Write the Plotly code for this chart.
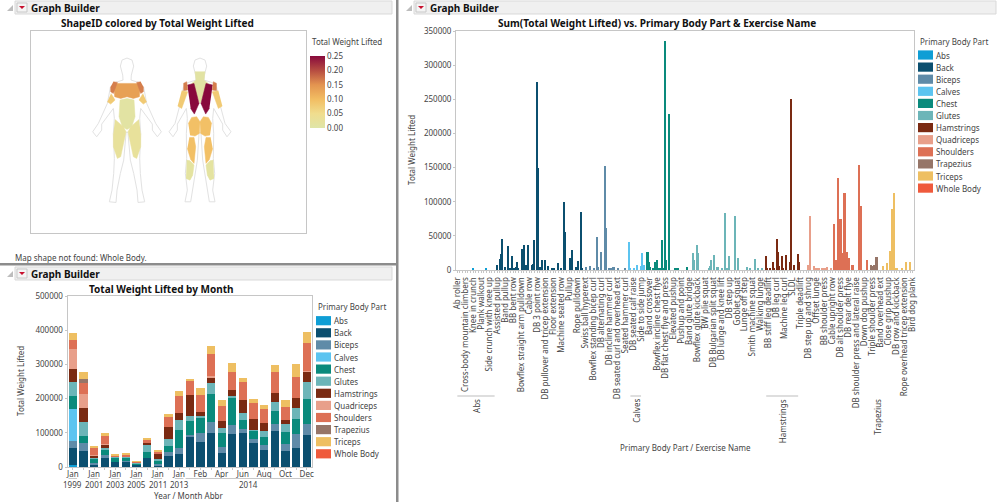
# -*- coding: utf-8 -*-
import plotly.graph_objects as go
from plotly.colors import sample_colorscale

W, H = 999, 502
FONT = 'Noto Sans'
TXT = '#444444'
FRAME = '#c6c6c6'

body_parts = ['Abs', 'Back', 'Biceps', 'Calves', 'Chest', 'Glutes', 'Hamstrings',
              'Quadriceps', 'Shoulders', 'Trapezius', 'Triceps', 'Whole Body']
part_colors = ['#0f9ed5', '#0b4f6f', '#5f8ba8', '#5cc4f0', '#0a8a7c', '#6cb5b8', '#7a2a12',
               '#e89f8a', '#dd7055', '#967568', '#eebf62', '#ef5a3c']

# stacked bars by month, values in thousands
month_keys = ['1999 Jan', '2000 Jan', '2001 Jan', '2002 Jan', '2003 Jan', '2004 Jan', '2005 Jan', '2006 Jan',
              '2011 Jan', '2012 Jan', '2013 Jan', '2014 Jan', '2014 Feb', '2014 Mar', '2014 Apr', '2014 May',
              '2014 Jun', '2014 Jul', '2014 Aug', '2014 Sep', '2014 Oct', '2014 Nov', '2014 Dec']
month_ticks = ['Jan', '', 'Jan', '', 'Jan', '', 'Jan', '', 'Jan', '', 'Jan', '', 'Feb', '', 'Apr', '',
               'Jun', '', 'Aug', '', 'Oct', '', 'Dec']
year_labels = ['1999', '2001', '2003', '2005', '2011', '2013', '2014']
year_first = [0, 2, 4, 6, 8, 10, 11]
year_last = [0, 2, 4, 6, 8, 10, 22]

month_abs = [7, 0, 0, 0, 0, 0, 0, 0, 0, 0, 0, 0, 0, 0, 0, 0, 0, 0, 0, 0, 0, 0, 0]
month_back = [48, 48, 8, 25, 15, 15, 6, 27, 5, 33, 37, 90, 72, 98, 40, 96, 99, 70, 50, 104, 47, 55, 95]
month_biceps = [22, 22, 4, 11, 1, 2, 1, 0, 5, 10, 19, 3, 26, 34, 18, 28, 13, 13, 15, 23, 21, 42, 32]
month_calves = [93, 0, 0, 0, 0, 0, 0, 0, 0, 0, 0, 0, 0, 0, 0, 0, 0, 0, 0, 0, 0, 0, 0]
month_chest = [37, 22, 12, 14, 12, 11, 3, 18, 8, 17, 51, 41, 47, 81, 42, 78, 26, 23, 22, 38, 34, 44, 73]
month_glutes = [43, 40, 5, 7, 4, 4, 2, 18, 6, 22, 31, 16, 3, 32, 13, 5, 20, 2, 19, 26, 24, 32, 50]
month_hams = [37, 40, 4, 9, 0, 0, 0, 7, 13, 36, 19, 60, 12, 18, 22, 18, 38, 33, 24, 25, 12, 29, 29]
month_quads = [58, 42, 2, 2, 0, 0, 0, 0, 0, 0, 0, 0, 0, 3, 0, 0, 0, 0, 0, 0, 0, 0, 3]
month_shoulders = [25, 31, 20, 22, 3, 4, 3, 10, 8, 29, 51, 43, 52, 64, 42, 52, 54, 47, 40, 62, 38, 62, 81]
month_traps = [0, 12, 0, 0, 0, 0, 0, 0, 0, 0, 0, 0, 0, 0, 0, 0, 0, 0, 0, 0, 0, 0, 0]
month_triceps = [22, 21, 7, 10, 3, 6, 2, 2, 2, 8, 14, 2, 20, 23, 20, 26, 10, 10, 10, 21, 21, 36, 32]
month_whole = [0] * 23

# exercise labels, JMP only shows every third one
exercise_labels = ['Ab roller', 'Cross-body mountain climbers', 'Knee in crunch', 'Plank walkout',
                   'Side crunch with knee up', 'Assisted pullup', 'Band pullup', 'BB bent row',
                   'Bowflex straight arm pulldown', 'Cable row', 'DB 3 point row',
                   'DB pullover and tricep extension', 'Floor extension', 'Machine seated row', 'Pullup',
                   'Rope pulldown', 'Swiss ball hyperext', 'Bowflex standing bicep curl', 'DB alternating curl',
                   'DB incline hammer curl', 'DB seated curl and overhead ext', 'Seated hammer curl',
                   'DB seated calf raise', 'Side to side jump', 'Band crossover', 'Bowflex incline chest flye',
                   'DB flat chest flye and press', 'Elevated pushup', 'Pushup and point', 'Band glute bridge',
                   'Bowflex glute kickback', 'BW plie squat', 'DB Bulgarian split squat', 'DB lunge and knee lift',
                   'DB step up', 'Goblet squat', 'Lunge off step', 'Smith machine squat', 'Walking lunge',
                   'BB stiff leg deadlift', 'DB leg curl', 'Machine leg curl', 'SLDL', 'Triple deadlift',
                   'DB step up and shrug', 'Offset lunge', 'BB shoulder press', 'Cable upright row',
                   'DB alt shoulder press', 'DB rear delt flye', 'DB shoulder press and lateral raise',
                   'Down dog pushup', 'Triple shoulder press', 'Band overhead ext', 'Close grip pushup',
                   'DB row and kickback', 'Rope overhead tricep extension', 'Bird dog plank']

# exercise slot and summed weight per body part
abs_slot = [6, 11]
abs_val = [3000, 3000]
back_slot = [15, 16, 16.5, 17, 18, 19, 20, 20.5, 21.5, 22, 22.5, 23, 24.5, 25, 26, 26.5, 28, 28.5, 29, 30, 30.5,
             31, 32, 33, 34, 35.5, 36.5, 38, 39, 40, 40.5, 42.5, 43, 44.5, 45.5, 46.5, 47]
back_val = [7000, 16000, 23000, 46000, 4500, 35000, 2000, 20500, 3000, 5000, 11000, 3000, 31000, 37000, 7000,
            37000, 8000, 9000, 44000, 276000, 150000, 5000, 14000, 14000, 6000, 1500, 1500, 10000, 3000, 99000,
            56000, 18000, 30000, 5000, 13000, 85000, 3000]
biceps_slot = [48.5, 50, 51.5, 52.5, 53, 54, 55.5, 56, 57, 58, 58.5, 59, 60.5, 63]
biceps_val = [5000, 6000, 3000, 48000, 4000, 26000, 153000, 61000, 2000, 3000, 5000, 5000, 2000, 3000]
calves_slot = [64.5, 65, 66.5, 67.5, 69, 69.5, 70]
calves_val = [41000, 3000, 2000, 7000, 6000, 25000, 7000]
chest_slot = [71.5, 72, 72.5, 73.5, 74.5, 75, 76, 77, 77.5, 78, 78.5, 79.5, 82, 83, 86.5]
chest_val = [27000, 11000, 4000, 3000, 12000, 14000, 3000, 44000, 3000, 335000, 15000, 228000, 2000, 2000, 4000]
glutes_slot = [88.5, 89, 90, 90.5, 94.5, 95, 95.5, 96.5, 97.5, 98, 99.5, 100.5, 101.5, 102, 104.5, 105.5,
               109, 110, 112, 113, 114.5]
glutes_val = [25000, 15000, 37000, 25000, 3000, 6000, 14000, 22000, 4000, 4000, 2000, 83000, 3000, 20000, 79500,
              17000, 4000, 3000, 16000, 3000, 3000]
hams_slot = [116, 116.5, 117.5, 118.5, 119, 120, 120.5, 121, 122, 122.5, 123.5, 125, 125.5, 126.5, 128, 128.5]
hams_val = [20000, 2000, 2000, 11000, 2000, 45000, 27000, 6000, 21000, 2000, 22000, 12000, 251000, 7000, 23000, 12000]
quads_slot = [132, 132.5, 134, 135, 136, 137, 138, 139, 140.5]
quads_val = [8000, 79000, 6000, 1500, 1500, 1500, 1500, 4000, 2000]
shoulders_slot = [141.5, 142.5, 143, 143.5, 144, 145, 145.5, 146.5, 147, 148.5, 151, 151.5, 154]
shoulders_val = [67000, 14000, 135000, 14000, 75000, 25000, 113000, 27000, 17000, 8000, 154000, 94000, 14000]
traps_slot = [155.5, 156, 156.5, 157.5]
traps_val = [7000, 6000, 7000, 19000]
triceps_slot = [160, 161.5, 162.5, 163.5, 164, 165, 167, 168.5, 170]
triceps_val = [6000, 10000, 28000, 89000, 113000, 2000, 2000, 12000, 11000]
whole_slot = [171]
whole_val = [0]

group_labels = ['Abs', 'Calves', 'Hamstrings', 'Trapezius']
group_first = [0, 65, 116, None]
group_last = [14, 69, 128, None]
group_center = [7, 67, 122, 157.5]

front_center = 381
back_center = 600
front_outline = [(0, 174), (-15, 180), (-20, 198), (-13, 225), (-12, 240), (-38, 248), (-50, 262), (-59, 310),
                 (-86, 370), (-103, 395), (-91, 410), (-76, 390), (-76, 372), (-41, 325), (-38, 355), (-41, 400),
                 (-38, 475), (-40, 520), (-45, 570), (-53, 605), (-33, 607), (-30, 570), (-20, 520), (-10, 480),
                 (-3, 400), (0, 395)]
back_outline = [(0, 174), (-15, 180), (-20, 198), (-13, 225), (-12, 240), (-38, 248), (-50, 262), (-59, 310),
                (-75, 370), (-93, 395), (-81, 410), (-68, 390), (-68, 372), (-41, 325), (-38, 355), (-41, 400),
                (-40, 475), (-44, 520), (-38, 570), (-45, 605), (-28, 605), (-22, 570), (-15, 520), (-8, 480),
                (-3, 400), (0, 395)]
chest_poly = [(0, 250), (31, 250), (39, 265), (37, 290), (19, 295), (0, 290)]
front_delt_poly = [(-41, 245), (-29, 247), (-41, 280), (-49, 275), (-49, 260)]
front_arm_poly = [(-48, 280), (-36, 300), (-49, 312), (-59, 305)]
abs_poly = [(0, 295), (21, 300), (24, 350), (14, 380), (0, 388)]
quad_poly = [(-36, 358), (-11, 380), (-3, 395), (-19, 470), (-29, 475), (-41, 440), (-41, 400)]
neck_poly = [(0, 215), (15, 215), (12, 240), (25, 250), (12, 285), (0, 310)]
lat_poly = [(-38, 255), (-18, 250), (-3, 310), (-17, 342), (-28, 325)]
back_delt_poly = [(-50, 250), (-40, 245), (-37, 270), (-50, 272)]
back_arm_poly = [(-55, 272), (-37, 275), (-55, 325), (-67, 318)]
glute_poly = [(-35, 370), (-25, 352), (-10, 350), (0, 365), (-2, 400), (-15, 408), (-30, 405)]
ham_poly = [(-32, 412), (-18, 412), (-13, 440), (-18, 490), (-28, 478), (-38, 445)]
calf_poly = [(-40, 480), (-30, 482), (-18, 495), (-22, 525), (-30, 540), (-42, 535)]

map_scale = [[0, '#dfe5a8'], [0.2, '#f0dd8e'], [0.4, '#f2bd62'], [0.6, '#e39450'], [0.8, '#b64c41'], [1, '#880a3c']]
front_polys = [chest_poly, front_delt_poly, front_arm_poly, abs_poly, quad_poly]
front_shares = [0.135, 0.165, 0.08, 0.01, 0.025]
back_polys = [neck_poly, lat_poly, back_delt_poly, back_arm_poly, glute_poly, ham_poly, calf_poly]
back_shares = [0.01, 0.25, 0.165, 0.08, 0.095, 0.095, 0.015]


def fx(x):
    return x / W


def fy(y):
    return 1 - y / H


def label(x, y, text, size=8, color=TXT, bold=False, anchor='left', angle=0, yanchor='middle'):
    return dict(x=fx(x), y=fy(y), xref='paper', yref='paper', text='<b>%s</b>' % text if bold else text,
                showarrow=False, xanchor=anchor, yanchor=yanchor, textangle=angle, align='left',
                font=dict(family=FONT, size=size, color=color))


def px_rect(x0, y0, x1, y1, fill, line=None, width=1):
    return dict(type='rect', xref='paper', yref='paper', x0=fx(x0), x1=fx(x1), y0=fy(y0), y1=fy(y1),
                fillcolor=fill, line=dict(color=line, width=width) if line else dict(width=0))


def px_tri(points, fill):
    path = 'M' + ' L'.join('%.4f,%.4f' % (fx(a), fy(b)) for a, b in points) + ' Z'
    return dict(type='path', xref='paper', yref='paper', path=path, fillcolor=fill, line=dict(width=0))


fig = go.Figure()


# body map
def add_poly(poly, center, color, fill=True, flip=1):
    xs = [center + flip * p[0] for p in poly]
    ys = [p[1] for p in poly]
    fig.add_trace(go.Scatter(x=xs, y=ys, xaxis='x3', yaxis='y3', mode='lines', hoverinfo='skip', showlegend=False,
                             fill='toself' if fill else None, fillcolor=color if fill else None,
                             line=dict(color=color, width=1 if not fill else 0.5)))


for outline, center in [(front_outline, front_center), (back_outline, back_center)]:
    add_poly(outline, center, '#e2e2e2', fill=False)
    add_poly(outline, center, '#e2e2e2', fill=False, flip=-1)
for poly, share in zip(front_polys, front_shares):
    col = sample_colorscale(map_scale, share / 0.25)[0]
    add_poly(poly, front_center, col)
    add_poly(poly, front_center, col, flip=-1)
for poly, share in zip(back_polys, back_shares):
    col = sample_colorscale(map_scale, share / 0.25)[0]
    add_poly(poly, back_center, col)
    add_poly(poly, back_center, col, flip=-1)

# only here for the gradient legend, sits outside the axis range
fig.add_trace(go.Scatter(
    x=[0, 0], y=[0, 0], xaxis='x3', yaxis='y3', mode='markers', hoverinfo='skip', showlegend=False,
    marker=dict(color=[0, 0.25], cmin=0, cmax=0.25, colorscale=map_scale, size=1,
                colorbar=dict(x=fx(310), xanchor='left', y=fy(56), yanchor='top', thickness=15, thicknessmode='pixels',
                              len=72, lenmode='pixels', outlinewidth=0, tickvals=[0, 0.05, 0.1, 0.15, 0.2, 0.25],
                              ticktext=['0.00', '0.05', '0.10', '0.15', '0.20', '0.25'], ticks='',
                              tickfont=dict(family=FONT, size=8, color=TXT), xpad=0, ypad=0))))

# stacked months
month_series = [month_abs, month_back, month_biceps, month_calves, month_chest, month_glutes, month_hams,
                month_quads, month_shoulders, month_traps, month_triceps, month_whole]
for name, color, vals in zip(body_parts, part_colors, month_series):
    fig.add_trace(go.Bar(x=month_keys, y=[v * 1000 for v in vals], name=name, marker_color=color,
                         marker_line_width=0, width=0.78, showlegend=False))

# exercises
slot_series = [(abs_slot, abs_val), (back_slot, back_val), (biceps_slot, biceps_val), (calves_slot, calves_val),
               (chest_slot, chest_val), (glutes_slot, glutes_val), (hams_slot, hams_val), (quads_slot, quads_val),
               (shoulders_slot, shoulders_val), (traps_slot, traps_val), (triceps_slot, triceps_val),
               (whole_slot, whole_val)]
for name, color, (slots, vals) in zip(body_parts, part_colors, slot_series):
    fig.add_trace(go.Bar(x=slots, y=vals, name=name, marker_color=color, marker_line_width=0, width=0.62,
                         xaxis='x2', yaxis='y2', showlegend=False))

shapes = []
notes = []

# window chrome
for x0, x1, y0 in [(2, 392, 1), (2, 392, 267), (401, 996, 1)]:
    shapes.append(px_rect(x0 + 13, y0, x1, y0 + 13, '#f0f0f0', '#d9d9d9'))
    shapes.append(px_tri([(x0 + 5, y0 + 10), (x0 + 11, y0 + 10), (x0 + 11, y0 + 4)], '#bdbdbd'))
    shapes.append(px_rect(x0 + 15, y0 + 2, x0 + 25, y0 + 11, '#f4f4f4', '#c8c8c8'))
    shapes.append(px_tri([(x0 + 17, y0 + 5), (x0 + 23, y0 + 5), (x0 + 20, y0 + 8)], '#c8102e'))
    notes.append(label(x0 + 27, y0 + 7, 'Graph Builder', size=10, color='#111111', bold=True))
shapes.append(px_rect(396, 0, 398.5, H, '#8c8c8c'))
shapes.append(px_rect(0, 263, 396, 265.5, '#8c8c8c'))

# titles
notes.append(label(157, 23, 'ShapeID colored by Total Weight Lifted', size=10, color='#111111', bold=True, anchor='center'))
notes.append(label(161, 288.5, 'Total Weight Lifted by Month', size=10, color='#111111', bold=True, anchor='center'))
notes.append(label(657, 23, 'Sum(Total Weight Lifted) vs. Primary Body Part &amp; Exercise Name', size=10, color='#111111',
                   bold=True, anchor='center'))
notes.append(label(13, 257, 'Map shape not found: Whole Body.'))
notes.append(label(310, 41, 'Total Weight Lifted'))
notes.append(label(20, 381, 'Total Weight Lifted', anchor='center', angle=-90))
notes.append(label(188, 495, 'Year / Month Abbr', anchor='center'))
notes.append(label(412, 150, 'Total Weight Lifted', anchor='center', angle=-90))
notes.append(label(685, 447, 'Primary Body Part / Exercise Name', anchor='center'))

# hand built legends, the swatches are far bigger than plotly's own
for x0, y_title, y_first in [(316, 306.5, 320.7), (918, 41, 55)]:
    notes.append(label(x0, y_title, 'Primary Body Part'))
    for i, (name, color) in enumerate(zip(body_parts, part_colors)):
        yc = y_first + i * 12.1
        shapes.append(px_rect(x0, yc - 4.6, x0 + 15, yc + 4.6, color))
        notes.append(label(x0 + 16, yc, name))

# year tier under the months
for text, a, b in zip(year_labels, year_first, year_last):
    notes.append(dict(x=(a + b) / 2, y=fy(484), xref='x', yref='paper', text=text, showarrow=False, xanchor='center',
                      yanchor='middle', font=dict(family=FONT, size=8, color=TXT)))
    shapes.append(dict(type='line', xref='x', yref='paper', x0=a - 0.4, x1=b + 0.4, y0=fy(478.5), y1=fy(478.5),
                       line=dict(color='#c8c8c8', width=1)))

# group tier under the exercises
for text, a, b, c in zip(group_labels, group_first, group_last, group_center):
    notes.append(dict(x=c, y=fy(397), xref='x2', yref='paper', text=text, showarrow=False, xanchor='center',
                      yanchor='top', textangle=-90, font=dict(family=FONT, size=8, color=TXT)))
    if a is not None:
        shapes.append(dict(type='line', xref='x2', yref='paper', x0=a, x1=b, y0=fy(396), y1=fy(396),
                           line=dict(color='#bdbdbd', width=1)))

axis_style = dict(showgrid=False, zeroline=False, showline=True, linecolor=FRAME, linewidth=1, mirror=True,
                  tickfont=dict(family=FONT, size=8, color=TXT), ticks='outside', tickcolor=FRAME, ticklen=2)

n_slots = 172
slot_ticks = list(range(n_slots))
slot_text = [exercise_labels[i // 3] if i % 3 == 0 else '' for i in slot_ticks]

fig.update_layout(
    width=W, height=H, margin=dict(l=0, r=0, t=0, b=0, autoexpand=False), autosize=False,
    paper_bgcolor='white', plot_bgcolor='white', barmode='stack', showlegend=False,
    font=dict(family=FONT, color=TXT),
    xaxis=dict(domain=[fx(67.5), fx(312)], type='category', categoryorder='array', categoryarray=month_keys,
               range=[-0.5, len(month_keys) - 0.5], tickmode='array', tickvals=month_keys, ticktext=month_ticks,
               tickangle=0, ticklabelstandoff=-3, **axis_style),
    yaxis=dict(domain=[fy(467), fy(296)], range=[0, 500000], tickvals=[0, 100000, 200000, 300000, 400000, 500000],
               tickformat='d', **axis_style),
    xaxis2=dict(domain=[fx(456), fx(914)], anchor='y2', range=[-0.5, n_slots - 0.5], tickmode='array',
                tickvals=slot_ticks, ticktext=slot_text, tickangle=-90, ticklabelstandoff=1, **axis_style),
    yaxis2=dict(domain=[fy(270), fy(31)], anchor='x2', range=[0, 350000], tickmode='array',
                tickvals=[0, 50000, 100000, 150000, 200000, 250000, 300000, 350000], tickformat='d', **axis_style),
    xaxis3=dict(domain=[fx(30.7), fx(306)], anchor='y3', range=[92, 918], showticklabels=False, ticks='',
                showgrid=False, zeroline=False, showline=True, linecolor=FRAME, mirror=True),
    yaxis3=dict(domain=[fy(232.5), fy(30.7)], anchor='x3', range=[697, 92], showticklabels=False, ticks='',
                showgrid=False, zeroline=False, showline=True, linecolor=FRAME, mirror=True),
    shapes=shapes, annotations=notes,
)

# the page body has a default margin that would push the plot off the window
fig.write_html("out.html", config={'displayModeBar': False},
               post_script="document.body.style.margin='0';document.body.style.overflow='hidden';")
